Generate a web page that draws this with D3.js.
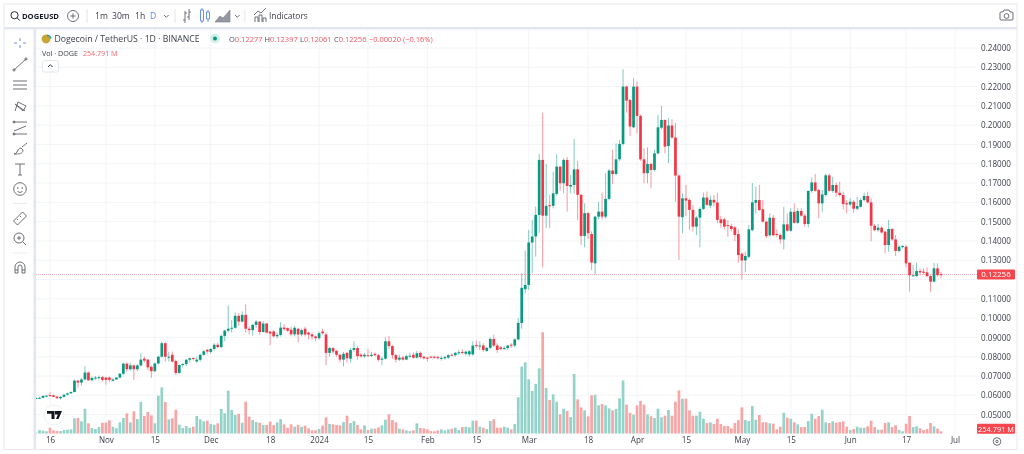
<!DOCTYPE html>
<html><head><meta charset="utf-8">
<script src="https://cdn.jsdelivr.net/npm/d3@7/dist/d3.min.js"></script>
<style>
html,body{margin:0;padding:0;background:#fff;overflow:hidden}
svg{display:block;filter:blur(.3px)}
text{font-family:"Open Sans","Noto Sans",sans-serif;fill:#2a2e39}
.axis .domain,.axis line{display:none}
.icon{fill:none;stroke:#5d606b;stroke-width:.9}
</style></head><body>
<svg id="c" width="1024" height="454"></svg>
<script>
const firstDay="2023-10-12";
const priceTicks=[0.05,0.06,0.07,0.08,0.09,0.10,0.11,0.12,0.13,0.14,0.15,0.16,0.17,0.18,0.19,0.20,0.21,0.22,0.23,0.24];
const priceLabelTicks=[0.05,0.06,0.07,0.08,0.09,0.10,0.11,0.13,0.14,0.15,0.16,0.17,0.18,0.19,0.20,0.21,0.22,0.23,0.24];
const timeTickDates=["2023-10-16","2023-11-01","2023-11-15","2023-12-01","2023-12-18","2024-01-01","2024-01-15","2024-02-01","2024-02-15","2024-03-01","2024-03-18","2024-04-01","2024-04-15","2024-05-01","2024-05-15","2024-06-01","2024-06-17","2024-07-01"];
const timeTickLabels=["16","Nov","15","Dec","18","2024","15","Feb","15","Mar","18","Apr","15","May","15","Jun","17","Jul"];
const opens=[
.0584,.0586,.0587,.0597,.0601,.0600,.0593,.0585,.0592,.0603,
.0610,.0617,.0676,.0666,.0682,.0718,.0678,.0690,.0692,.0694,
.0692,.0692,.0675,.0682,.0692,.0712,.0764,.0735,.0755,.0735,
.0755,.0790,.0785,.0748,.0725,.0765,.0800,.0870,.0795,.0810,
.0778,.0716,.0757,.0762,.0784,.0793,.0775,.0784,.0810,.0836,
.0825,.0840,.0862,.0850,.0908,.0935,.0945,.0950,.1012,.0982,
.1017,.0945,.0938,.0965,.0982,.0928,.0972,.0930,.0931,.0906,
.0913,.0951,.0948,.0940,.0916,.0945,.0915,.0945,.0925,.0916,
.0905,.0896,.0930,.0915,.0820,.0845,.0830,.0810,.0785,.0820,
.0790,.0835,.0845,.0810,.0802,.0808,.0804,.0815,.0808,.0784,
.0790,.0880,.0855,.0808,.0785,.0796,.0785,.0803,.0810,.0795,
.0820,.0800,.0795,.0800,.0800,.0798,.0790,.0792,.0795,.0810,
.0808,.0818,.0825,.0815,.0812,.0812,.0860,.0855,.0858,.0830,
.0846,.0892,.0858,.0848,.0840,.0845,.0862,.0858,.0890,.0975,
.1150,.1172,.1392,.1423,.1535,.1820,.1531,.1585,.1582,.1644,
.1785,.1699,.1820,.1682,.1690,.1771,.1639,.1426,.1544,.1436,
.1284,.1526,.1552,.1526,.1618,.1765,.1747,.1823,.1903,.2200,
.2131,.1989,.2200,.2048,.1823,.1751,.1799,.1768,.1854,.1987,
.2027,.1892,.1998,.1936,.1739,.1523,.1621,.1613,.1561,.1474,
.1521,.1566,.1625,.1583,.1613,.1599,.1512,.1512,.1482,.1477,
.1470,.1436,.1334,.1299,.1318,.1456,.1598,.1612,.1564,.1500,
.1429,.1520,.1436,.1431,.1408,.1486,.1453,.1551,.1494,.1555,
.1531,.1488,.1659,.1703,.1664,.1595,.1638,.1740,.1659,.1690,
.1650,.1638,.1595,.1589,.1603,.1567,.1577,.1612,.1633,.1600,
.1479,.1456,.1469,.1448,.1379,.1462,.1408,.1348,.1368,.1370,
.1287,.1218,.1218,.1244,.1241,.1237,.1218,.1189,.1258,.12277];
const closes=[
.0586,.0587,.0597,.0598,.0596,.0592,.0585,.0592,.0603,.0610,
.0617,.0676,.0666,.0682,.0718,.0678,.0690,.0692,.0694,.0680,
.0680,.0680,.0682,.0692,.0712,.0764,.0735,.0755,.0735,.0755,
.0785,.0780,.0745,.0725,.0765,.0800,.0870,.0800,.0800,.0775,
.0716,.0757,.0762,.0784,.0792,.0790,.0785,.0810,.0828,.0827,
.0840,.0862,.0850,.0908,.0935,.0945,.0950,.1012,.0982,.1017,
.0945,.0938,.0965,.0982,.0928,.0972,.0925,.0920,.0906,.0913,
.0951,.0943,.0935,.0916,.0950,.0915,.0938,.0915,.0915,.0905,
.0896,.0922,.0922,.0820,.0845,.0827,.0810,.0785,.0815,.0792,
.0835,.0845,.0803,.0802,.0810,.0804,.0810,.0808,.0784,.0790,
.0880,.0855,.0808,.0785,.0795,.0785,.0803,.0805,.0795,.0818,
.0798,.0792,.0792,.0797,.0798,.0795,.0794,.0798,.0808,.0808,
.0820,.0823,.0822,.0826,.0828,.0858,.0855,.0858,.0835,.0846,
.0892,.0858,.0835,.0840,.0845,.0858,.0858,.0890,.0975,.1157,
.1172,.1392,.1423,.1535,.1820,.1531,.1582,.1580,.1647,.1785,
.1699,.1820,.1685,.1690,.1771,.1639,.1426,.1544,.1440,.1288,
.1526,.1552,.1526,.1618,.1765,.1747,.1823,.1903,.2200,.2127,
.1993,.2200,.2048,.1823,.1751,.1799,.1768,.1854,.1989,.2027,
.1889,.1998,.1936,.1739,.1526,.1621,.1609,.1561,.1474,.1521,
.1566,.1625,.1587,.1613,.1599,.1509,.1492,.1474,.1478,.1462,
.1431,.1327,.1299,.1322,.1460,.1600,.1612,.1560,.1500,.1425,
.1520,.1429,.1431,.1408,.1486,.1453,.1551,.1494,.1555,.1531,
.1488,.1659,.1703,.1660,.1595,.1641,.1740,.1660,.1690,.1650,
.1638,.1591,.1589,.1603,.1567,.1581,.1612,.1633,.1600,.1479,
.1456,.1469,.1444,.1379,.1462,.1408,.1348,.1370,.1374,.1284,
.1222,.1222,.1244,.1237,.1235,.1218,.1189,.1258,.1223,.12256];
const highs=[
.0590,.0592,.0600,.0602,.0616,.0604,.0597,.0596,.0606,.0613,
.0620,.0682,.0680,.0690,.0750,.0722,.0697,.0700,.0702,.0700,
.0695,.0698,.0690,.0695,.0715,.0770,.0770,.0768,.0760,.0760,
.0818,.0800,.0788,.0755,.0770,.0805,.0878,.0875,.0825,.0827,
.0785,.0760,.0768,.0788,.0796,.0797,.0800,.0815,.0835,.0840,
.0845,.0870,.0872,.0915,.0940,.1065,.0990,.1030,.1025,.1035,
.1072,.0955,.0970,.0990,.0985,.0985,.0975,.0935,.0940,.0925,
.0979,.0968,.0952,.0955,.0960,.0950,.0945,.0955,.0930,.0925,
.0910,.0930,.0945,.0925,.0850,.0850,.0835,.0815,.0825,.0825,
.0845,.0880,.0855,.0820,.0820,.0840,.0825,.0822,.0815,.0800,
.0900,.0907,.0860,.0815,.0810,.0805,.0810,.0820,.0822,.0830,
.0828,.0805,.0800,.0805,.0805,.0805,.0805,.0805,.0812,.0818,
.0825,.0835,.0838,.0832,.0835,.0880,.0885,.0880,.0870,.0850,
.0900,.0915,.0870,.0855,.0855,.0862,.0870,.0895,.1000,.1233,
.1350,.1457,.1509,.1578,.1851,.2065,.1799,.1639,.1759,.1849,
.1790,.1829,.1834,.1742,.1929,.1815,.1645,.1595,.1550,.1450,
.1530,.1604,.1651,.1751,.1772,.1872,.1906,.1923,.2290,.2205,
.2135,.2243,.2226,.2055,.1880,.1885,.1805,.1872,.2053,.2100,
.2030,.2036,.2031,.2013,.1745,.1647,.1690,.1620,.1587,.1530,
.1575,.1651,.1656,.1635,.1639,.1648,.1530,.1520,.1508,.1490,
.1478,.1460,.1340,.1344,.1482,.1700,.1681,.1690,.1612,.1505,
.1543,.1534,.1460,.1440,.1577,.1543,.1569,.1595,.1569,.1569,
.1540,.1664,.1729,.1747,.1670,.1664,.1747,.1750,.1733,.1702,
.1707,.1655,.1612,.1621,.1612,.1629,.1621,.1650,.1655,.1621,
.1488,.1488,.1477,.1452,.1508,.1465,.1431,.1379,.1380,.1379,
.1290,.1275,.1287,.1258,.1258,.1263,.1222,.1287,.1284,.12397];
const lows=[
.0582,.0583,.0585,.0594,.0593,.0590,.0583,.0577,.0590,.0600,
.0608,.0615,.0640,.0650,.0680,.0675,.0674,.0680,.0680,.0672,
.0655,.0670,.0672,.0680,.0688,.0705,.0722,.0728,.0680,.0725,
.0750,.0770,.0730,.0690,.0720,.0760,.0795,.0775,.0775,.0770,
.0705,.0712,.0745,.0752,.0770,.0780,.0770,.0775,.0805,.0815,
.0815,.0830,.0845,.0845,.0880,.0925,.0925,.0945,.0960,.0978,
.0925,.0915,.0910,.0950,.0915,.0925,.0920,.0860,.0900,.0895,
.0905,.0935,.0930,.0905,.0905,.0875,.0905,.0905,.0890,.0888,
.0880,.0888,.0915,.0755,.0800,.0815,.0800,.0770,.0750,.0770,
.0770,.0825,.0785,.0795,.0795,.0800,.0798,.0802,.0775,.0755,
.0785,.0840,.0790,.0770,.0778,.0780,.0782,.0795,.0790,.0790,
.0790,.0785,.0775,.0792,.0790,.0785,.0780,.0785,.0790,.0803,
.0800,.0810,.0812,.0805,.0800,.0805,.0845,.0835,.0825,.0825,
.0840,.0850,.0820,.0832,.0835,.0835,.0845,.0850,.0885,.0945,
.1130,.1146,.1233,.1319,.1443,.1264,.1466,.1466,.1569,.1635,
.1660,.1647,.1552,.1647,.1647,.1509,.1379,.1367,.1410,.1250,
.1224,.1512,.1512,.1515,.1610,.1695,.1740,.1815,.1895,.2065,
.1944,.1985,.1958,.1815,.1699,.1699,.1673,.1760,.1850,.1980,
.1854,.1803,.1930,.1604,.1302,.1440,.1530,.1457,.1449,.1430,
.1367,.1560,.1580,.1570,.1578,.1492,.1470,.1460,.1422,.1450,
.1400,.1287,.1201,.1237,.1310,.1450,.1543,.1555,.1495,.1415,
.1422,.1425,.1420,.1387,.1356,.1448,.1448,.1490,.1488,.1525,
.1474,.1470,.1650,.1655,.1517,.1551,.1630,.1655,.1650,.1629,
.1630,.1564,.1543,.1580,.1546,.1560,.1574,.1605,.1595,.1399,
.1450,.1448,.1440,.1336,.1344,.1400,.1322,.1340,.1360,.1263,
.1137,.1215,.1212,.1222,.1225,.1212,.1137,.1185,.1215,.12061];
const volumesM=[
110,400,330,260,660,370,290,290,400,440,
480,1690,1730,1360,2750,1140,620,510,730,1210,
1210,1470,770,590,1250,1730,2240,1250,2460,1610,
3490,1950,2390,2020,1140,4180,5100,3490,1580,1690,
2640,990,620,840,660,770,1950,1580,1360,1430,
1060,990,1140,2720,2240,4730,2610,2060,2200,1210,
3520,1870,1500,1280,1210,950,950,1320,950,1250,
1610,1030,660,1030,770,950,770,880,590,370,
370,510,880,1800,1060,1030,950,920,1280,1980,
1170,1390,950,480,920,400,550,550,700,920,
1540,2130,1500,1250,550,480,370,290,370,1140,
620,590,480,290,260,370,480,370,480,550,
660,400,730,770,700,1430,1430,770,660,510,
1390,1580,660,660,770,660,480,1060,4000,7380,
7850,5980,4700,5470,7190,11160,5030,3710,4330,3520,
2130,2750,2500,1830,6570,3780,2900,2570,1910,4220,
4290,3120,3270,3120,2790,2570,2720,3890,5870,3190,
2280,2090,3120,3600,3190,2130,1910,1720,2750,1800,
1980,2610,1980,3520,4770,3850,3850,2570,1980,1980,
2420,1650,1170,1250,1060,1650,1060,840,840,590,
1170,1500,2900,1500,1390,3040,1540,2050,1250,1250,
1140,1100,480,770,2310,1760,1650,1250,1030,730,
730,1390,2200,1650,1950,2640,1250,1170,1360,1210,
1280,1360,770,400,510,770,660,660,810,1430,
730,440,440,1170,1250,730,920,400,260,1100,
1950,730,810,590,400,510,1170,810,550,254.791];

const svg=d3.select("#c");
const chartL=36,chartR=977,chartT=29,chartB=433.7;
const days=d3.utcDay.range(new Date(firstDay+"T00:00Z"),d3.utcDay.offset(new Date(firstDay+"T00:00Z"),opens.length));
const candles=days.map((d,i)=>({d,o:opens[i],c:closes[i],h:highs[i],l:lows[i],v:volumesM[i]}));
const x=d3.scaleUtc().domain([new Date("2023-10-16T00:00Z"),new Date("2024-07-01T00:00Z")]).range([50,955]);
const y=d3.scaleLinear().domain([0.05,0.24]).range([414.6,48]);
const yv=d3.scaleLinear().domain([0,11000]).range([chartB,chartB-100]);
const up="#089981",down="#f23645";
const tickDates=timeTickDates.map(s=>new Date(s+"T00:00Z"));
const tickLabelOf=new Map(tickDates.map((d,i)=>[+d,timeTickLabels[i]]));

// frame
svg.append("rect").attr("x",4).attr("y",4).attr("width",1013).attr("height",445.5).attr("fill","#fff").attr("stroke","#e8e9ef").attr("stroke-width",1);
svg.append("rect").attr("x",4).attr("y",27).attr("width",1013).attr("height",2.4).attr("fill","#e3e5ef");
svg.append("rect").attr("x",33.5).attr("y",27).attr("width",2.6).attr("height",422).attr("fill","#e3e5ef");
svg.append("clipPath").attr("id","pane").append("rect").attr("x",chartL).attr("y",chartT).attr("width",chartR-chartL).attr("height",chartB-chartT);

// grid
const grid=svg.append("g").attr("stroke","#f3f4f7").attr("stroke-width",1);
grid.selectAll(".h").data(priceTicks).join("line").attr("x1",chartL).attr("x2",chartR).attr("y1",d=>y(d)).attr("y2",d=>y(d));
grid.selectAll(".v").data(tickDates).join("line").attr("x1",d=>x(d)).attr("x2",d=>x(d)).attr("y1",chartT).attr("y2",chartB);

const pane=svg.append("g").attr("clip-path","url(#pane)");
// volume
const bw=2.7;
pane.selectAll(".vol").data(candles).join("rect").attr("class","vol")
 .attr("x",d=>x(d.d)-bw/2).attr("width",bw).attr("y",d=>yv(d.v)).attr("height",d=>chartB-yv(d.v))
 .attr("fill",d=>d.c>=d.o?"#93d3c9":"#f9a5a6");
// last price line
pane.append("line").attr("x1",chartL).attr("x2",chartR).attr("y1",y(closes[closes.length-1])).attr("y2",y(closes[closes.length-1]))
 .attr("stroke","#f23645").attr("stroke-opacity",.5).attr("stroke-width",.8).attr("stroke-dasharray","1 1");
// wicks, bodies
pane.selectAll(".wick").data(candles).join("line").attr("class","wick")
 .attr("x1",d=>x(d.d)).attr("x2",d=>x(d.d)).attr("y1",d=>y(d.h)).attr("y2",d=>y(d.l))
 .attr("stroke",d=>d.c>=d.o?up:down).attr("stroke-opacity",.5).attr("stroke-width",1);
const cw=2.7;
pane.selectAll(".body").data(candles).join("rect").attr("class","body")
 .attr("x",d=>x(d.d)-cw/2).attr("width",cw)
 .attr("y",d=>y(Math.max(d.o,d.c))).attr("height",d=>Math.max(1,Math.abs(y(d.o)-y(d.c))))
 .attr("fill",d=>d.c>=d.o?up:down);

// axes
const fs=8.1;
svg.append("g").attr("class","axis").attr("transform",`translate(${chartR},0)`)
 .call(d3.axisRight(y).tickValues(priceLabelTicks).tickFormat(d3.format(".5f")).tickSize(0).tickPadding(4))
 .selectAll("text").style("font-size",fs+"px").style("font-family",'"Open Sans"').style("fill","#3a3e49");
svg.append("g").attr("class","axis").attr("transform",`translate(0,${chartB})`)
 .call(d3.axisBottom(x).tickValues(tickDates).tickFormat(d=>tickLabelOf.get(+d)).tickSize(0).tickPadding(4))
 .selectAll("text").style("font-size",fs+"px").style("font-family",'"Open Sans"').style("fill","#3a3e49");

// price tags
function tag(cy,t,s){svg.append("rect").attr("x",977).attr("y",cy-5).attr("width",38).attr("height",10).attr("fill","#f6474f").attr("rx",1);
 svg.append("text").attr("x",996).attr("y",cy+2.9).attr("text-anchor","middle").style("font-size",s+"px").style("fill","#fff").text(t);}
tag(y(closes[259]),"0.12256",8);
tag(428.7,"254.791 M",7.4);

// top toolbar text
function T(xx,yy,s,o={}){return svg.append("text").attr("x",xx).attr("y",yy).attr("text-anchor",o.a||"start").style("font-size",(o.s||8.6)+"px").style("font-weight",o.w||400).style("fill",o.f||"#2a2e39").text(s);}
T(22,19,"DOGEUSD",{w:700,s:7.6,f:"#131722"});
T(95,19,"1m",{f:"#3a3e49"});T(112,19,"30m",{f:"#3a3e49"});T(135,19,"1h",{f:"#3a3e49"});T(150,19,"D",{f:"#5b84ee"});
T(269,19,"Indicators",{f:"#3a3e49",s:8.4});
// legend
T(54.5,41.8,"Dogecoin / TetherUS · 1D · BINANCE",{s:8.7,f:"#3a3e49"});
function legend(xx,label,val){const t=svg.append("text").attr("x",xx).attr("y",41.5).style("font-size","7.5px");
 t.append("tspan").style("fill","#4a4e59").text(label);t.append("tspan").style("fill","#f23645").style("fill-opacity",.85).text(val);}
legend(229,"O","0.12277");legend(264.5,"H","0.12397");legend(300,"L","0.12061");legend(334,"C","0.12256");
T(369,41.5,"−0.00020 (−0.16%)",{s:7.5,f:"#f4555f"});
T(42,55.5,"Vol · DOGE",{s:7.2,f:"#3a3e49"});T(83,55.5,"254.791 M",{s:7.1,f:"#f4646c"});

// decorations
const g=svg.append("g").attr("class","icon");
const P=(d,o={})=>g.append("path").attr("d",d).attr("stroke",o.s||null).attr("fill",o.f||null).attr("stroke-width",o.w||null);
const C=(cx,cy,r,o={})=>g.append("circle").attr("cx",cx).attr("cy",cy).attr("r",r).attr("fill",o.f||"none").attr("stroke",o.s||null).attr("stroke-width",o.w||null);
// search
C(14.5,15.2,3.6,{s:"#131722"});P("M17 17.8l2.8 2.8",{s:"#131722"});
// plus
C(73,16,5.5);P("M70.3 16h5.4M73 13.3v5.4");
// separators
[87,175,245].forEach(v=>P(`M${v} 9v14`,{s:"#e0e3eb"}));
P("M164 15l2.3 2.3 2.3-2.3");P("M235 15l2.3 2.3 2.3-2.3");
// bar style
P("M185 11v12M189 9v11M183 20h2M185 13h2M187 17h2M189 12h2");
// candle style (blue)
P("M200.5 10h3v11h-3zM202 8v2M202 21v2M206.5 12h3v7h-3zM208 10v2M208 19v3",{s:"#5b84ee"});
// area style
P("M215 22l5-6 3 2 7-8v12z",{f:"#9598a1",s:"#787b86",w:.6});
// indicators icon
P("M255 22v-5h3v5M259 22v-7h3v7M263 22v-4h3v4M254 15l4-4 3 2 5-5");
// camera
P("M1001 12h2l1-2h5l1 2h2a1 1 0 0 1 1 1v6a1 1 0 0 1-1 1h-11a1 1 0 0 1-1-1v-6a1 1 0 0 1 1-1z");C(1006.5,16,2.4);
// left tools
P("M20 38v3M20 45v3M14 43h3M23 43h3",{s:"#5b84ee"});
P("M14 70l12-11");C(14,70,1.1);C(26,59,1.1);
P("M13 81h14M13 85h14M13 89h14");
P("M15 111l3-9 8 4-3 5-8-7 10 7");
P("M13 122h14M14 131l12-5M13 134h14");C(14,122,1);C(14,134,1);
P("M14 154c4 0 3-6 7-6l2 2c0 4-5 4-6 4zM22 147l5-4");
P("M15 164h10M20 164v11M18 175h4");
C(20,189,6.3);C(17.8,188,.4);C(22.2,188,.4);P("M17.5 191.5q2.5 2 5 0");
P("M13 203.5h14",{s:"#e8e9ef"});
P("M13.5 221l9-9 4 4-9 9zM17 219l1 1M20 216l1 1");
C(19,238,5);P("M23 242l3 3M17 238h4M19 236v4");
P("M13 253h14",{s:"#e8e9ef"});
P("M15 273v-6a5 5 0 0 1 10 0v6h-3v-6a2 2 0 0 0-4 0v6zM15 270h3M22 270h3");
// legend logo
C(46,39,4.2,{f:"#c9a533",s:"#b18f28",w:.3});P("M47 35.5a4 4 0 0 1 4 3",{s:"#2aa198",w:1.4});
// live dot
C(215,38.5,5,{f:"#d6efea",s:"none"});C(215,38.5,2,{f:"#089981",s:"none"});
// collapse button
g.append("rect").attr("x",42.5).attr("y",60.5).attr("width",16).attr("height",11.5).attr("rx",2).attr("fill","#fff").attr("stroke","#e0e3eb");
P("M48 67l2.3-2.3 2.3 2.3",{s:"#131722"});
// TV logo
C(54,415,10,{f:"#fff",s:"#eceef3"});
P("M47 411h7.5v8h-3v-5.2H47zM55 411h7l-3.5 8h-2.5l1.8-4.5h-2.8z",{f:"#131722",s:"none"});
// time settings
C(997,441.5,3.8);C(997,441.5,1.2);
</script>
</body></html>
